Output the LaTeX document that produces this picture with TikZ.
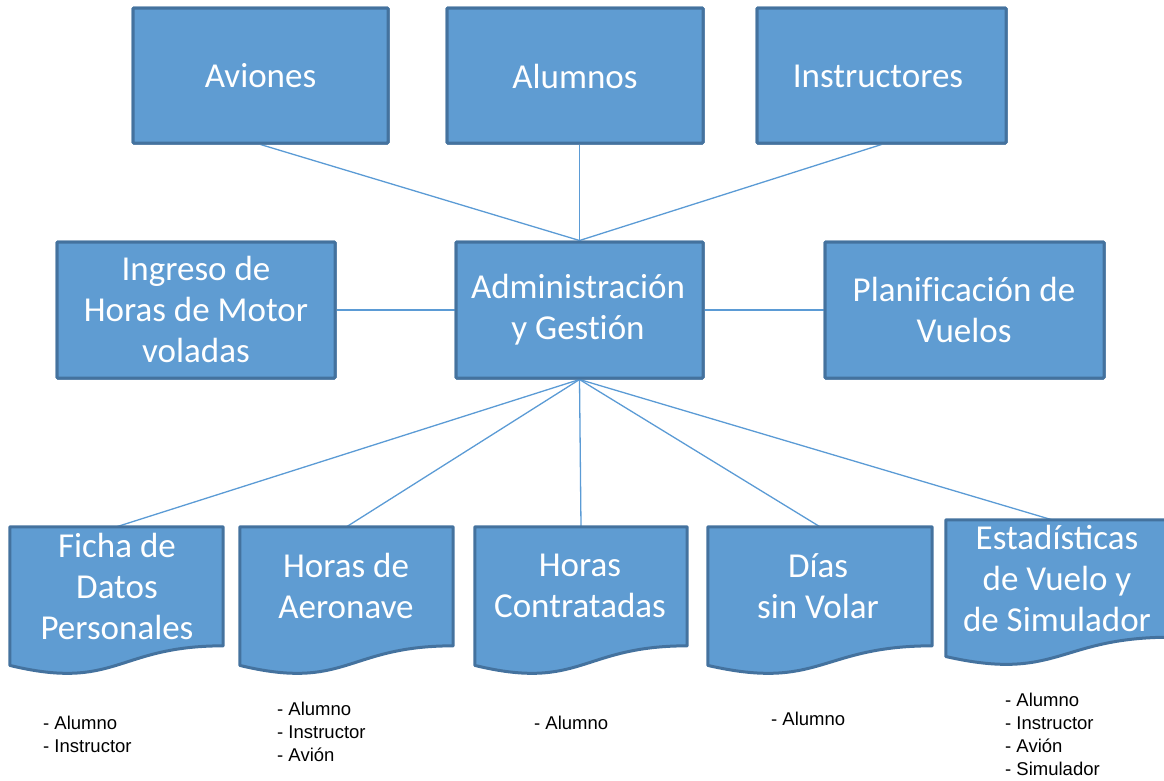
\documentclass[tikz,border=0pt]{standalone}
\usepackage{fontspec}
\setmainfont{Carlito}
\newfontfamily\listfont{Liberation Sans}
\usetikzlibrary{calc}
\definecolor{boxfill}{HTML}{5F9CD2}
\definecolor{boxedge}{HTML}{44729E}
\definecolor{linkcol}{HTML}{5B9BD5}
\tikzset{
  box/.style={draw=boxedge, fill=boxfill, line width=3pt, rounded corners=1pt, inner sep=0pt},
  docarea/.style={inner sep=0pt},
  boxtext/.style={text=white, align=center, inner sep=0pt, font=\fontsize{35}{41}\selectfont},
  listtext/.style={anchor=west, align=left, inner sep=0pt, font=\listfont\fontsize{18.5}{23}\selectfont},
  link/.style={draw=linkcol, line width=1.3pt},
  docshape/.style={draw=boxedge, fill=boxfill, line width=3pt, line join=round}
}
\newcommand{\drawdoc}[1]{%
  \path[docshape] (#1.north west) -- (#1.north east) -- ($(#1.north east)!0.802!(#1.south east)$)
    .. controls ($(#1.north)!0.802!(#1.south)$) and ($(#1.north)!1.1075!(#1.south)$) ..
    ($(#1.north west)!0.934!(#1.south west)$) -- cycle;}
\begin{document}
\begin{tikzpicture}[x=1pt,y=-1pt]
\useasboundingbox (0,0) rectangle (1164,780);
% top boxes
\node[box, minimum width=255, minimum height=135] (aviones) at (260.5,75.5) {};
\node[box, minimum width=256, minimum height=135] (alumnos) at (575,75.5) {};
\node[box, minimum width=249, minimum height=135] (instr) at (881.5,75.5) {};
% middle
\node[box, minimum width=278, minimum height=136] (ingreso) at (196,310) {};
\node[box, minimum width=247, minimum height=136] (admin) at (579.5,310) {};
\node[box, minimum width=279, minimum height=136] (plan) at (964.5,310) {};
% document areas
\node[docarea, minimum width=213, minimum height=148] (ficha) at (116.5,601) {};
\node[docarea, minimum width=213, minimum height=148] (aero) at (346.5,601) {};
\node[docarea, minimum width=212, minimum height=148] (contr) at (581,601) {};
\node[docarea, minimum width=224, minimum height=148] (dias) at (820,601) {};
\node[docarea, minimum width=224, minimum height=146] (estad) at (1058,593) {};
% connectors
\draw[link] (aviones.south) -- (admin.north);
\draw[link] (admin.north |- alumnos.south) -- (admin.north);
\draw[link] (instr.south) -- (admin.north);
\draw[link] (ingreso.east) -- (admin.west);
\draw[link] (admin.east) -- (plan.west);
\draw[link] (admin.south) -- (ficha.north);
\draw[link] (admin.south) -- (aero.north);
\draw[link] (admin.south) -- (contr.north);
\draw[link] (admin.south) -- (dias.north);
\draw[link] (admin.south) -- ($(estad.north)+(-6,0)$);
% redraw boxes on top of connectors
\node[box, minimum width=255, minimum height=135] at (aviones) {};
\node[box, minimum width=256, minimum height=135] at (alumnos) {};
\node[box, minimum width=249, minimum height=135] at (instr) {};
\node[box, minimum width=278, minimum height=136] at (ingreso) {};
\node[box, minimum width=247, minimum height=136] at (admin) {};
\node[box, minimum width=279, minimum height=136] at (plan) {};
\drawdoc{ficha}
\drawdoc{aero}
\drawdoc{contr}
\drawdoc{dias}
\drawdoc{estad}
% texts
\node[boxtext] (taviones) at (260.5,76) {Aviones};
\node[boxtext] (talumnos) at (575,76) {Alumnos};
\node[boxtext] (tinstr) at (878,76) {Instructores};
\node[boxtext] (tingreso) at (196,309) {Ingreso de\\Horas de Motor\\voladas};
\node[boxtext] (tadmin) at (578,310) {Administración\\y Gest\kern0pt ión};
\node[boxtext] (tplan) at (964,310) {Planif\kern0pt icación de\\Vuelos};
\node[boxtext] (tficha) at (117,586) {Ficha de\\Datos\\Personales};
\node[boxtext] (taero) at (346,586) {Horas de\\Aeronave};
\node[boxtext] (tcontr) at (580,586) {Horas\\Contratadas};
\node[boxtext] (tdias) at (818,586) {Días\\sin Volar};
\node[boxtext] (testad) at (1057,578) {Estadísticas\\de Vuelo y\\de Simulador};
% lists
\node[listtext] (lficha) at (43,734.5) {- Alumno\\- Instructor};
\node[listtext] (laero) at (277,732) {- Alumno\\- Instructor\\- Avión};
\node[listtext] (lcontr) at (534,723) {- Alumno};
\node[listtext] (ldias) at (771,719) {- Alumno};
\node[listtext] (lestad) at (1005,734.5) {- Alumno\\- Instructor\\- Avión\\- Simulador};
\end{tikzpicture}
\end{document}
